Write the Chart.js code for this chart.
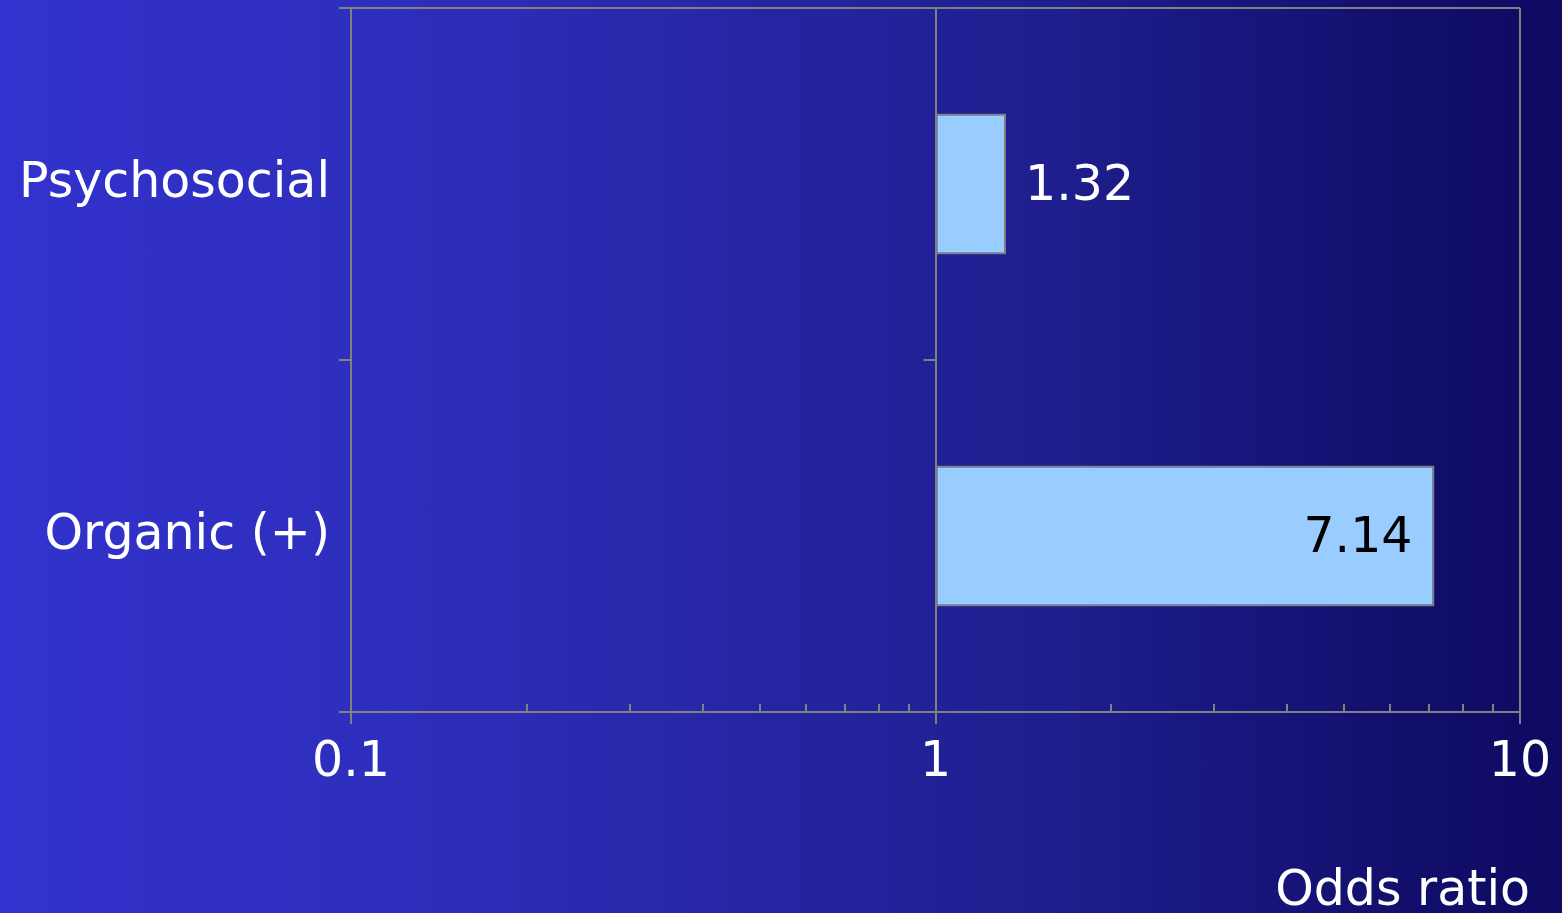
<!DOCTYPE html>
<html>
<head>
<meta charset="utf-8">
<script src="https://cdn.jsdelivr.net/npm/chart.js@4/dist/chart.umd.min.js"></script>
<style>
  html, body { margin: 0; padding: 0; overflow: hidden; }
  body {
    width: 1562px; height: 913px;
    background: linear-gradient(to right,
      rgb(50,50,206) 0%,
      rgb(45,45,186) 28%,
      rgb(31,31,144) 66%,
      rgb(18,15,108) 90%,
      rgb(14,10,98) 100%);
  }
  canvas { display: block; }
</style>
</head>
<body>
<canvas id="c" width="1562" height="913"></canvas>
<script>
const categories = ['Psychosocial', 'Organic (+)'];
const oddsRatios = [1.32, 7.14];
const referenceValue = 1;
const tickLabels = [0.1, 1, 10];
const minorTickValues = [0.2, 0.3, 0.4, 0.5, 0.6, 0.7, 0.8, 0.9, 2, 3, 4, 5, 6, 7, 8, 9];
const axisTitle = 'Odds ratio';

const FONT = '"DejaVu Sans", Verdana, sans-serif';
const GRAY = '#808080';

function isMajor(v) {
  const l = Math.log10(v);
  return Math.abs(l - Math.round(l)) < 1e-9;
}

const decorPlugin = {
  id: 'decor',
  afterDraw(chart) {
    const ctx = chart.ctx;
    const x = chart.scales.x, y = chart.scales.y;
    ctx.save();
    ctx.strokeStyle = GRAY;
    ctx.lineWidth = 2;
    // minor ticks pointing inward from the x axis
    minorTickValues.forEach(v => {
      const px = Math.round(x.getPixelForValue(v));
      ctx.beginPath();
      ctx.moveTo(px, y.bottom);
      ctx.lineTo(px, y.bottom - 8);
      ctx.stroke();
    });
    // tick on the crossing axis at value 1, between the categories
    const xr = x.getPixelForValue(referenceValue);
    for (let i = 0; i < categories.length - 1; i++) {
      const yb = (y.getPixelForValue(i) + y.getPixelForValue(i + 1)) / 2;
      ctx.beginPath();
      ctx.moveTo(xr - 12, yb);
      ctx.lineTo(xr, yb);
      ctx.stroke();
    }
    // value labels
    ctx.font = '49px ' + FONT;
    ctx.textBaseline = 'alphabetic';
    const meta = chart.getDatasetMeta(0);
    meta.data.forEach((el, i) => {
      const txt = oddsRatios[i].toFixed(2);
      const w = ctx.measureText(txt).width;
      const len = el.x - el.base;
      if (len > w + 50) {
        ctx.fillStyle = '#000000';
        ctx.textAlign = 'right';
        ctx.fillText(txt, el.x - 22, el.y + 16);
      } else {
        ctx.fillStyle = '#ffffff';
        ctx.textAlign = 'left';
        ctx.fillText(txt, el.x + 19, el.y + 16);
      }
    });
    // axis title
    ctx.fillStyle = '#ffffff';
    ctx.textAlign = 'right';
    ctx.fillText(axisTitle, 1530, 905);
    ctx.restore();
  }
};

new Chart(document.getElementById('c'), {
  type: 'bar',
  data: {
    labels: categories,
    datasets: [{
      data: oddsRatios.map(v => [referenceValue, v]),
      backgroundColor: '#99CCFF',
      borderColor: GRAY,
      borderWidth: 2,
      borderSkipped: false,
      categoryPercentage: 1,
      barPercentage: 0.4
    }]
  },
  options: {
    indexAxis: 'y',
    responsive: false,
    animation: false,
    devicePixelRatio: 1,
    layout: { padding: { top: 8, right: 42, left: 0, bottom: 0 } },
    plugins: { legend: { display: false }, tooltip: { enabled: false } },
    scales: {
      x: {
        type: 'logarithmic',
        min: 0.1,
        max: 10,
        afterFit(s) { s.height = 201; s.paddingLeft = 0; s.paddingRight = 0; },
        border: { display: true, color: GRAY, width: 2 },
        grid: {
          drawOnChartArea: true,
          color: c => (c.tick && (Math.abs(c.tick.value - 1) < 1e-9 || Math.abs(c.tick.value - 10) < 1e-9)) ? GRAY : 'rgba(0,0,0,0)',
          lineWidth: 2,
          tickLength: 12,
          tickColor: c => (c.tick && isMajor(c.tick.value)) ? GRAY : 'rgba(0,0,0,0)',
          tickWidth: 2
        },
        ticks: {
          autoSkip: false,
          maxRotation: 0,
          color: '#ffffff',
          padding: 10,
          font: { family: FONT, size: 49 },
          callback: v => tickLabels.some(t => Math.abs(t - v) < 1e-9) ? String(v) : ''
        }
      },
      y: {
        type: 'category',
        afterFit(s) { s.width = 351; s.paddingTop = 0; s.paddingBottom = 0; },
        border: { display: true, color: GRAY, width: 2 },
        grid: {
          offset: true,
          color: c => c.index === 0 ? GRAY : 'rgba(0,0,0,0)',
          lineWidth: 2,
          tickLength: 12,
          tickColor: GRAY,
          tickWidth: 2
        },
        ticks: {
          color: '#ffffff',
          padding: 9,
          font: { family: FONT, size: 49 }
        }
      }
    }
  },
  plugins: [decorPlugin]
});
</script>
</body>
</html>
